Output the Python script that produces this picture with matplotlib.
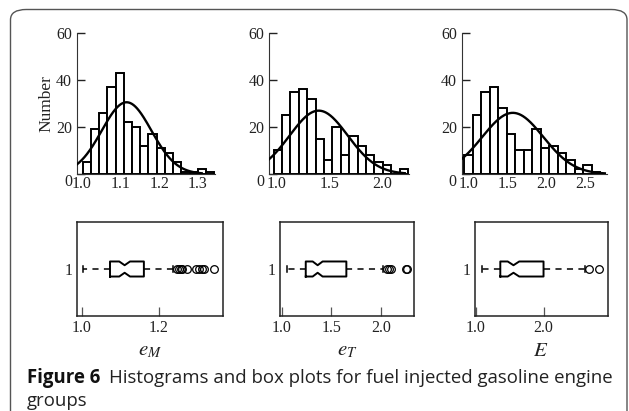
import numpy as np
import matplotlib
matplotlib.use("Agg")
import matplotlib.pyplot as plt
from matplotlib.patches import FancyBboxPatch

plt.rcParams['mathtext.fontset'] = 'stix'
plt.rcParams['font.family'] = ['Liberation Serif', 'DejaVu Serif']

# ---------------- data ----------------
var_labels = [r'$e_M$', r'$e_T$', r'$E$']

# histogram 1 (e_M)
h1_start = 1.003
h1_width = 0.0212
h1_counts = [5, 19, 26, 37, 43, 22, 20, 12, 17, 11, 9, 5, 1, 1, 2, 1]
h1_fit_mean, h1_fit_sd = 1.116, 0.064
h1_xticks = [1.0, 1.1, 1.2, 1.3]

# histogram 2 (e_T)
h2_start = 0.97
h2_width = 0.08
h2_counts = [10, 25, 35, 36, 32, 15, 6, 20, 8, 16, 12, 8, 5, 4, 0, 2]
h2_fit_mean, h2_fit_sd = 1.40, 0.277
h2_xticks = [1.0, 1.5, 2.0]

# histogram 3 (E)
h3_start = 0.95
h3_width = 0.109
h3_counts = [8, 25, 35, 37, 28, 17, 10, 10, 19, 11, 12, 9, 6, 2, 4, 1]
h3_fit_mean, h3_fit_sd = 1.57, 0.391
h3_xticks = [1.0, 1.5, 2.0, 2.5]

y_ticks = [0, 20, 40, 60]

# box plots
b1_stats = dict(whislo=1.004, q1=1.074, med=1.112, q3=1.162, whishi=1.238,
                cilo=1.098, cihi=1.126,
                fliers=[1.247, 1.253, 1.258, 1.262, 1.274, 1.298, 1.305, 1.312, 1.318, 1.344])
b1_xticks = [1.0, 1.2]

b2_stats = dict(whislo=1.047, q1=1.24, med=1.36, q3=1.65, whishi=2.02,
                cilo=1.31, cihi=1.41,
                fliers=[2.06, 2.08, 2.10, 2.25, 2.26])
b2_xticks = [1.0, 1.5, 2.0]

b3_stats = dict(whislo=1.09, q1=1.36, med=1.555, q3=2.0, whishi=2.62,
                cilo=1.47, cihi=1.64,
                fliers=[2.67, 2.82])
b3_xticks = [1.0, 2.0]

# ---------------- layout ----------------
W, H = 629, 411
fig = plt.figure(figsize=(W / 100, H / 100), dpi=100)


def px_axes(l, r, t, b):
    return fig.add_axes([l / W, 1 - b / H, (r - l) / W, (b - t) / H])


# border
border = FancyBboxPatch((10.5 / W, -0.2), (627 - 10.5) / W, (1.2 - 9.5 / H),
                        boxstyle="round,pad=0,rounding_size=0.025",
                        transform=fig.transFigure, fill=False,
                        edgecolor='#555555', linewidth=1.0, clip_on=False)
fig.patches.append(border)

hists = [
    (h1_start, h1_width, h1_counts, h1_fit_mean, h1_fit_sd, h1_xticks,
     (77, 215), (0.9879, 1.3444), 1.31),
    (h2_start, h2_width, h2_counts, h2_fit_mean, h2_fit_sd, h2_xticks,
     (269.3, 409), (0.9295, 2.26), 2.22),
    (h3_start, h3_width, h3_counts, h3_fit_mean, h3_fit_sd, h3_xticks,
     (461.7, 607), (0.915, 2.778), 2.75),
]

tick_fs = 11.5
for i, (st, wd, cnt, mu, sd, xt, (l, r), xl, xend) in enumerate(hists):
    ax = px_axes(l, r, 33, 174)
    edges = st + wd * np.arange(len(cnt))
    ax.bar(edges, cnt, width=wd, align='edge', facecolor='white',
           edgecolor='black', linewidth=1.4, zorder=2)
    n = sum(cnt)
    xs = np.linspace(xl[0], xend, 300)
    ys = n * wd * np.exp(-0.5 * ((xs - mu) / sd) ** 2) / (sd * np.sqrt(2 * np.pi))
    ax.plot(xs, ys, color='black', linewidth=1.7, zorder=3)
    ax.set_xlim(*xl)
    ax.set_ylim(0, 60)
    for s in ['top', 'right']:
        ax.spines[s].set_visible(False)
    ax.spines['left'].set_color('#333333')
    ax.spines['bottom'].set_color('#333333')
    ax.set_yticks(y_ticks)
    ax.set_xticks(xt)
    ax.set_xticklabels([f'{v:.1f}' for v in xt])
    ax.tick_params(axis='y', direction='in', length=6, width=1.0,
                   labelsize=tick_fs, pad=3.5, colors='#222222')
    ax.tick_params(axis='x', direction='in', length=3, width=0.8,
                   color='#999999', labelsize=tick_fs, pad=1.5,
                   labelcolor='#222222')
    for lab in ax.get_yticklabels():
        if lab.get_text() == '0':
            lab.set_verticalalignment('top')
    if i == 0:
        ax.set_ylabel('Number', fontsize=12.5, labelpad=1, color='#222222')

boxes = [
    (b1_stats, b1_xticks, (76.5, 223), (0.987, 1.3675)),
    (b2_stats, b2_xticks, (279.6, 414.4), (0.976, 2.337)),
    (b3_stats, b3_xticks, (474.5, 607.7), (0.978, 2.95)),
]

for i, (stt, xt, (l, r), xl) in enumerate(boxes):
    ax = px_axes(l, r, 222, 316)
    ax.bxp([stt], positions=[1], widths=0.16, orientation='horizontal',
           shownotches=True, showfliers=True, capwidths=0.06,
           boxprops=dict(color='black', linewidth=1.4),
           whiskerprops=dict(color='black', linewidth=1.1,
                             linestyle=(0, (4, 3.5))),
           capprops=dict(color='black', linewidth=1.1),
           medianprops=dict(linewidth=0),
           flierprops=dict(marker='o', markersize=5.5, markerfacecolor='none',
                           markeredgecolor='black', markeredgewidth=0.9))
    ax.set_xlim(*xl)
    ax.set_ylim(0.5, 1.5)
    ax.set_xticks(xt)
    ax.set_xticklabels([f'{v:.1f}' for v in xt])
    ax.set_yticks([1])
    ax.set_yticklabels(['1'])
    for s in ax.spines.values():
        s.set_linewidth(1.1)
        s.set_color('#222222')
    ax.tick_params(axis='x', direction='in', length=6.5, width=0.9,
                   color='#555555', labelsize=tick_fs, pad=3,
                   labelcolor='#222222')
    ax.tick_params(axis='y', direction='in', length=0, labelsize=tick_fs,
                   pad=3, labelcolor='#222222')
    ax.set_xlabel(var_labels[i], fontsize=15, labelpad=4, color='#222222')

# caption
cap_fs = 13.4
renderer = fig.canvas.get_renderer()
t1 = fig.text(27 / W, 1 - 378 / H, 'Figure 6', fontsize=cap_fs,
              fontweight='bold', family=['Open Sans', 'DejaVu Sans'],
              color='#111111', va='center', ha='left')
bb = t1.get_window_extent(renderer=renderer)
fig.text((bb.x1 + 9) / W, 1 - 378 / H,
         'Histograms and box plots for fuel injected gasoline engine',
         fontsize=cap_fs, family=['Open Sans', 'DejaVu Sans'],
         color='#222222', va='center', ha='left')
fig.text(27 / W, 1 - 401 / H, 'groups', fontsize=cap_fs,
         family=['Open Sans', 'DejaVu Sans'], color='#222222',
         va='center', ha='left')

fig.savefig('out.png', dpi=100)
